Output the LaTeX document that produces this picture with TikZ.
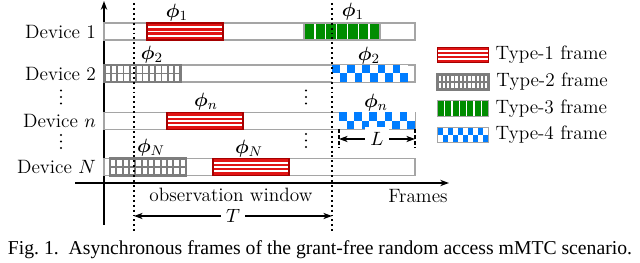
\documentclass[tikz,border=0pt]{standalone}
\usepackage{amsmath}
\usepackage{bm}
\usepackage{fontspec}
\newfontfamily\capfont{Liberation Serif}
\usetikzlibrary{calc,arrows.meta}

\definecolor{frred}{RGB}{225,20,20}
\definecolor{frdred}{RGB}{165,0,0}
\definecolor{frgray}{RGB}{125,125,125}
\definecolor{frgreen}{RGB}{0,140,0}
\definecolor{frblue}{RGB}{0,125,255}
\definecolor{barline}{RGB}{165,165,165}

\tikzset{
  bar/.style={draw=barline, line width=0.7pt, minimum width=6.22cm, minimum height=0.34cm, inner sep=0pt},
  slot/.style={minimum width=1.52cm, minimum height=0.34cm, inner sep=0pt},
  legslot/.style={minimum width=1.02cm, minimum height=0.31cm, inner sep=0pt},
  typeone/.style={draw=frdred, line width=0.7pt, fill=frred, path picture={
    \foreach \k in {1,2,3}
      \draw[white, line width=1pt] let \p1=(path picture bounding box.south west), \p2=(path picture bounding box.north east) in
        (\x1,{\y1+(\y2-\y1)*\k/4}) -- (\x2,{\y1+(\y2-\y1)*\k/4});
  }},
  typetwo/.style={draw=frgray, line width=1.6pt, fill=white, path picture={
    \foreach \k in {1,...,11}
      \draw[frgray, line width=1.1pt] let \p1=(path picture bounding box.south west), \p2=(path picture bounding box.north east) in
        ({\x1+(\x2-\x1)*\k/12},\y1) -- ({\x1+(\x2-\x1)*\k/12},\y2);
    \draw[frgray, line width=1.1pt] let \p1=(path picture bounding box.south west), \p2=(path picture bounding box.north east) in
        (\x1,{(\y1+\y2)/2}) -- (\x2,{(\y1+\y2)/2});
  }},
  typethree/.style={draw=barline, line width=0.7pt, fill=frgreen, path picture={
    \foreach \k in {1,...,6}
      \draw[white, line width=0.8pt] let \p1=(path picture bounding box.south west), \p2=(path picture bounding box.north east) in
        ({\x1+(\x2-\x1)*\k/7},\y1) -- ({\x1+(\x2-\x1)*\k/7},\y2);
  }},
  typefour/.style={fill=white, path picture={
    \foreach \i in {0,...,9}
      \foreach \j in {0,1} {
        \pgfmathtruncatemacro\s{mod(\i+\j,2)}
        \ifnum\s=0
        \fill[frblue] let \p1=(path picture bounding box.south west), \p2=(path picture bounding box.north east) in
          ({\x1+(\x2-\x1)*\i/10},{\y2-(\y2-\y1)*\j/2}) rectangle ({\x1+(\x2-\x1)*(\i+1)/10},{\y2-(\y2-\y1)*(\j+1)/2});
        \fi
      }
  }},
  window/.style={line width=1.1pt, dash pattern=on 1.1pt off 1.7pt},
  lbl/.style={font=\fontsize{11}{13}\selectfont, inner sep=1pt},
  phi/.style={font=\fontsize{11}{13}\selectfont, inner sep=0pt}
}

\begin{document}
\begin{tikzpicture}[x=0.02cm, y=-0.02cm, >={Stealth[length=5pt, width=3.6pt]}]
\useasboundingbox (0,0) rectangle (640,263);

% axes
\coordinate (yb) at (104,225);
\coordinate (yt) at (104,1);
\coordinate (xl) at (75,183);
\coordinate (xr) at (449,183);
\draw[line width=0.8pt, ->] (yb) -- (yt);
\draw[line width=0.8pt, ->] (xl) -- (xr);
\node[lbl] (frames) at (418,196) {Frames};

% device rows
\node[bar] (bar1) at (259.5,31.5) {};
\node[bar] (bar2) at (259.5,73.5) {};
\node[bar] (barn) at (259.5,121) {};
\node[bar] (barN) at (259.5,167) {};
\node[lbl, anchor=east] (dev1) at (98,31.5) {Device 1};
\node[lbl, anchor=east] (dev2) at (98,73.5) {Device 2};
\node[lbl, anchor=east] (devn) at (98,121) {Device $n$};
\node[lbl, anchor=east] (devN) at (98,167) {Device $N$};

% vertical dots
\coordinate (dotsa) at (61,97);
\coordinate (dotsb) at (61,141.5);
\coordinate (dotsc) at (306,97);
\coordinate (dotsd) at (306,140.5);
\foreach \c in {dotsa,dotsb,dotsc,dotsd}
  \foreach \d in {-6.5,0,6.5}
    \fill ($(\c)+(0,\d)$) circle (0.6pt);

% frames
\node[slot, typeone] (f1a) at (185,31.5) {};
\node[slot, typethree] (f1b) at (342,31.5) {};
\node[slot, typetwo] (f2a) at (142.5,73.5) {};
\node[slot, typefour] (f2b) at (370,73.5) {};
\node[slot, typeone] (fna) at (205,121) {};
\node[slot, typefour] (fnb) at (377,121) {};
\node[slot, typetwo] (fNa) at (148,167) {};
\node[slot, typeone] (fNb) at (251,167) {};

\node[phi] (p1a) at (177,13) {$\bm{\phi}_1$};
\node[phi] (p1b) at (353,12) {$\bm{\phi}_1$};
\node[phi] (p2a) at (152,55) {$\bm{\phi}_2$};
\node[phi] (p2b) at (369,56) {$\bm{\phi}_2$};
\node[phi] (pna) at (206,102) {$\bm{\phi}_n$};
\node[phi] (pnb) at (376,103) {$\bm{\phi}_n$};
\node[phi] (pNa) at (151,148) {$\bm{\phi}_N$};
\node[phi] (pNb) at (249,149) {$\bm{\phi}_N$};

% observation window
\coordinate (wat) at (134,3);
\coordinate (wab) at (134,231);
\coordinate (wbt) at (332,3);
\coordinate (wbb) at (332,231);
\draw[window] (wat) -- (wab);
\draw[window] (wbt) -- (wbb);
\node[lbl] (obs) at (231,195) {observation window};
\coordinate (Tl) at (134,216);
\coordinate (Tr) at (332,216);
\draw[<->, line width=0.6pt] (Tl) -- node[lbl, fill=white, inner sep=3pt] (T) {$T$} (Tr);

% frame length
\coordinate (Lat) at (339,129);
\coordinate (Lab) at (339,148);
\coordinate (Lbt) at (415,129);
\coordinate (Lbb) at (415,148);
\draw[dashed, line width=0.6pt, dash pattern=on 2pt off 1.5pt] (Lat) -- (Lab);
\draw[dashed, line width=0.6pt, dash pattern=on 2pt off 1.5pt] (Lbt) -- (Lbb);
\coordinate (Ll) at (339,139);
\coordinate (Lr) at (415,139);
\draw[<->, line width=0.6pt] (Ll) -- node[lbl, fill=white, inner sep=3pt] (L) {$L$} (Lr);

% legend
\node[legslot, typeone] (leg1) at (463,55) {};
\node[legslot, typetwo] (leg2) at (463,82) {};
\node[legslot, typethree] (leg3) at (463,108.5) {};
\node[legslot, typefour, draw=barline, line width=0.7pt] (leg4) at (463,135) {};
\node[lbl, anchor=west] (t1) at ([xshift=2.5pt]leg1.east) {Type-1 frame};
\node[lbl, anchor=west] (t2) at ([xshift=2.5pt]leg2.east) {Type-2 frame};
\node[lbl, anchor=west] (t3) at ([xshift=2.5pt]leg3.east) {Type-3 frame};
\node[lbl, anchor=west] (t4) at ([xshift=2.5pt]leg4.east) {Type-4 frame};

% caption
\node[font=\capfont\fontsize{11.2}{13}\selectfont, inner sep=0pt] (cap) at (320,250)
  {Fig.~1.\ \ Asynchronous frames of the grant-free random access mMTC scenario.};
\end{tikzpicture}
\end{document}
